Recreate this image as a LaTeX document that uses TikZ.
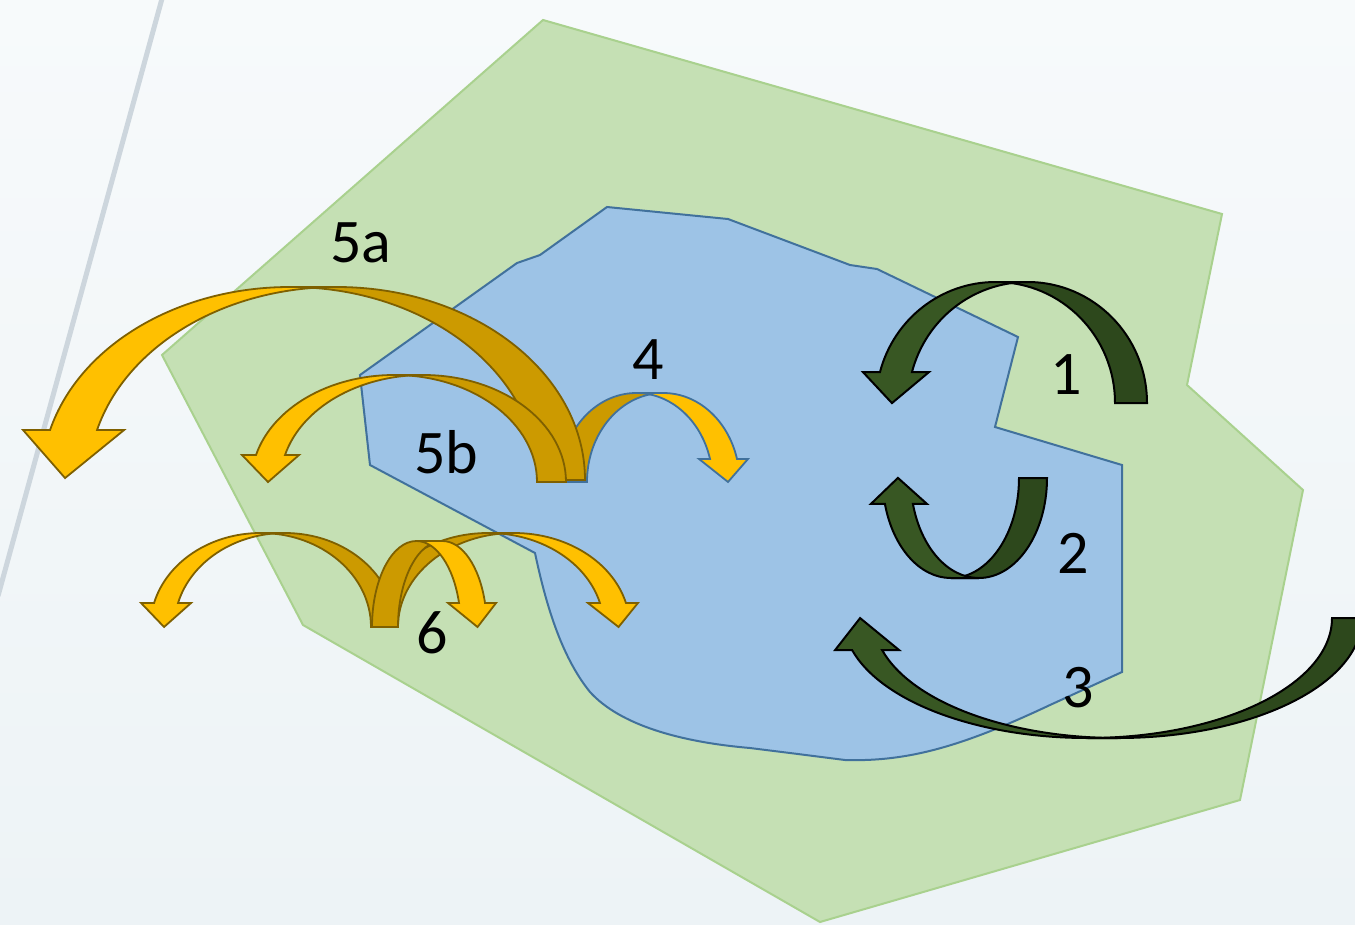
\documentclass[tikz,border=0pt]{standalone}
\usepackage{fontspec}
\setmainfont{Carlito}
\definecolor{yelF}{RGB}{255,192,0}
\definecolor{yelB}{RGB}{204,154,0}
\definecolor{yelO}{RGB}{127,96,0}
\definecolor{bluO}{RGB}{65,113,156}
\definecolor{bluF}{RGB}{157,195,230}
\definecolor{grnF}{RGB}{56,87,35}
\definecolor{grnB}{RGB}{45,72,28}
\definecolor{landF}{RGB}{197,224,180}
\definecolor{landO}{RGB}{169,209,142}
\definecolor{bgTop}{RGB}{247,250,251}
\definecolor{bgBot}{RGB}{237,243,246}
\definecolor{roadC}{RGB}{205,214,221}
% #1 scope options, #2 a, #3 b, #4 w, #5 phi, #6 head ext, #7 tip dx, #8 tip dy, #9 style prefix
\newcommand{\ribbonarrow}[9]{%
 \begin{scope}[#1]
  \pgfmathsetmacro\rnx{-(#2)*cos(#5)}
  \pgfmathsetmacro\rny{-(#3)*sin(#5)}
  \pgfmathsetmacro\rtx{\rnx+(#4)/2+(#7)}
  \pgfmathsetmacro\rty{\rny+(#8)}
  \filldraw[#9bk] (0,-#3) arc[start angle=-90,end angle=0,x radius=#2,y radius=#3]
     -- ({#4+#2},0) arc[start angle=0,end angle=-90,x radius=#2,y radius=#3] -- cycle;
  \filldraw[#9fr] (0,-#3) arc[start angle=-90,end angle={#5-180},x radius=#2,y radius=#3]
     -- ++(-#6,0) -- (\rtx,\rty) -- ({\rnx+#4+#6},\rny) -- ({\rnx+#4},\rny)
     arc[start angle={#5-180},end angle=-90,x radius=#2,y radius=#3] -- cycle;
 \end{scope}}
\begin{document}
\begin{tikzpicture}[x=1pt,y=-1pt,
  ybk/.style={fill=yelB,draw=yelO,line width=1.8pt},
  yfr/.style={fill=yelF,draw=yelO,line width=1.8pt},
  bbk/.style={fill=yelB,draw=bluO,line width=1.8pt},
  bfr/.style={fill=yelF,draw=bluO,line width=1.8pt},
  gbk/.style={fill=grnB,draw=black,line width=2pt},
  gfr/.style={fill=grnF,draw=black,line width=2pt},
  lbl/.style={font=\fontsize{62}{70}\selectfont,inner sep=0pt,text=black}]
\useasboundingbox (0,0) rectangle (1355,924);
\clip (0,0) rectangle (1355,924);
\shade[top color=bgTop,bottom color=bgBot] (0,0) rectangle (1355,924);
% road line
\draw[roadC,line width=5pt] (163,-5) -- (-2,596);
% green area
\filldraw[fill=landF,draw=landO,line width=2pt]
  (543,20) -- (1222,214) -- (1187,385) -- (1303,490) -- (1240,800) -- (820,922)
  -- (303,625) -- (162,355) -- cycle;
% blue area
\filldraw[fill=bluF,draw=bluO,line width=2pt]
  (607,207) -- (728,219) -- (850,265) -- (877,269) -- (1018,337) -- (995,427)
  -- (1122,465) -- (1122,672) -- (1050,705) .. controls (965,745) and (910,762) .. (845,760)
  -- (790,753) -- (750,748) .. controls (680,742) and (620,725) .. (590,692)
  .. controls (560,655) and (545,600) .. (535,553)
  -- (370,465) -- (360,375) -- (517,263) -- (540,255) -- cycle;
% arrow 4
\ribbonarrow{shift={(663.3,482)},xscale=-1}{76.3}{89}{27}{15}{11}{-4.5}{23}{b}
% arrow 5a
\ribbonarrow{shift={(289.8,480)}}{248.2}{193}{47}{15}{27}{-8.5}{48}{y}
% arrow 5b
\ribbonarrow{shift={(394.2,482)}}{142.8}{107}{29}{14.6}{14}{-2.5}{27}{y}
% arrows 6
\ribbonarrow{shift={(513.9,627)},xscale=-1}{115.9}{94}{26}{14.8}{12}{-5.6}{24}{y}
\ribbonarrow{shift={(260.7,627)}}{110.3}{94}{24}{14.8}{13}{-2}{24}{y}
\ribbonarrow{shift={(442.4,627)},xscale=-1}{44.4}{86}{26}{16.2}{11}{-5.5}{24}{y}
% arrow 1
\ribbonarrow{shift={(995.5,403)}}{119.5}{121}{32}{14.8}{17}{-4}{31}{g}
% arrow 2
\ribbonarrow{shift={(950.8,478)},yscale=-1}{68.2}{100}{28}{15}{14}{-1}{26}{g}
% arrow 3
\ribbonarrow{shift={(1087.6,618)},yscale=-1}{244.4}{120}{30}{15.5}{17}{-7}{32}{g}
% labels
\node[lbl] (l5a) at (361,243) {5a};
\node[lbl] (l5b) at (446,452) {5b};
\node[lbl] (l4) at (648,360) {4};
\node[lbl] (l1) at (1066,375) {1};
\node[lbl] (l2) at (1073,553) {2};
\node[lbl] (l3) at (1078,688) {3};
\node[lbl] (l6) at (432,633) {6};
\end{tikzpicture}
\end{document}
